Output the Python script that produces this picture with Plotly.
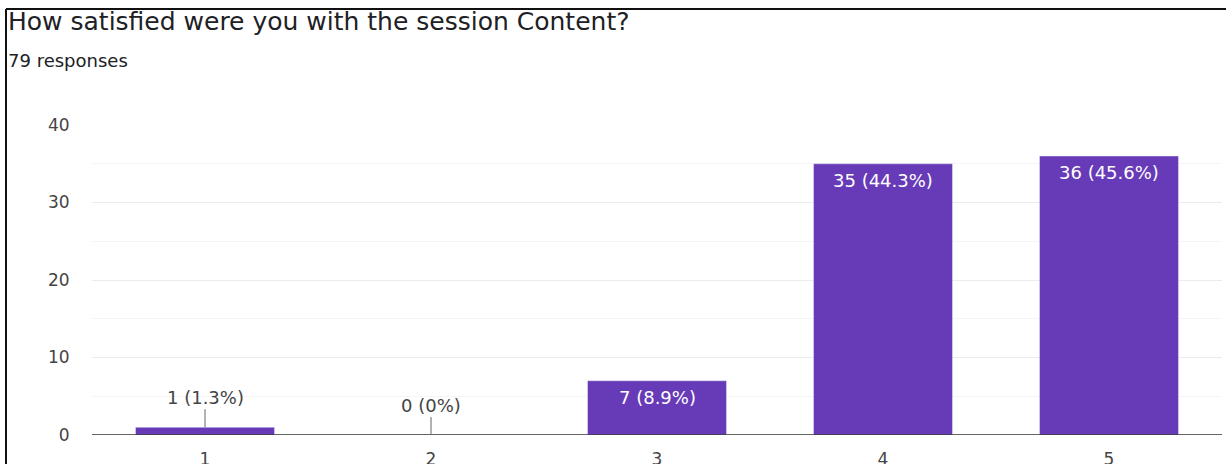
import plotly.graph_objects as go

categories = ["1", "2", "3", "4", "5"]
counts = [1, 0, 7, 35, 36]
total_responses = 79
title_text = "How satisfied were you with the session Content?"
subtitle_text = f"{total_responses} responses"
y_ticks = [0, 10, 20, 30, 40]

BAR_COLOR = "#673ab7"
FONT = "DejaVu Sans"

W, H = 1226, 464
ML, MR, MT, MB = 92, 4, 125, 29
PW, PH = W - ML - MR, H - MT - MB


def px_x(px):
    return (px - ML) / PW


def px_y(py):
    return (H - MB - py) / PH


def pct_label(v):
    p = round(v / total_responses * 100, 1)
    return f"{v} ({p:g}%)"


labels = [pct_label(v) for v in counts]

fig = go.Figure()
fig.add_trace(go.Bar(
    x=categories, y=counts, marker_color=BAR_COLOR, width=0.615,
    hoverinfo="skip", showlegend=False,
))

annotations = []
for i, (v, lab) in enumerate(zip(counts, labels)):
    if v >= 5:
        annotations.append(dict(
            x=i, y=v, xref="x", yref="y", text=lab, showarrow=False,
            yanchor="top", yshift=-4,
            font=dict(family=FONT, size=18, color="#ffffff"),
        ))
    else:
        annotations.append(dict(
            x=i, y=v, xref="x", yref="y", text=lab, showarrow=True,
            arrowhead=0, arrowwidth=1, arrowcolor="#666666", ax=0, ay=-30,
            standoff=0, font=dict(family=FONT, size=18, color="#444444"),
        ))

annotations.append(dict(
    x=px_x(6), y=px_y(48), xref="paper", yref="paper", text=subtitle_text,
    showarrow=False, xanchor="left", yanchor="top",
    font=dict(family=FONT, size=18, color="#202124"),
))

fig.update_layout(
    width=W, height=H,
    margin=dict(l=ML, r=MR, t=MT, b=MB, pad=0),
    paper_bgcolor="white", plot_bgcolor="white",
    title=dict(text=title_text, xref="container", yref="container",
               x=8 / W, xanchor="left", y=1 - 12 / H, yanchor="top",
               font=dict(family=FONT, size=25, color="#202124"),
               pad=dict(l=0, t=0, r=0, b=0)),
    xaxis=dict(
        type="category", range=[-0.5, 4.5], showgrid=False, zeroline=False,
        showline=False, ticks="outside", ticklen=9, tickcolor="rgba(0,0,0,0)",
        tickfont=dict(family=FONT, size=17, color="#444444"),
        automargin=False, fixedrange=True,
    ),
    yaxis=dict(
        range=[0, 40], tickvals=y_ticks, showgrid=True, gridcolor="#ebebeb",
        gridwidth=1, zeroline=False, showline=False, ticks="outside",
        ticklen=18, tickcolor="rgba(0,0,0,0)",
        tickfont=dict(family=FONT, size=17, color="#444444"),
        minor=dict(dtick=5, showgrid=True, gridcolor="#f5f5f5", gridwidth=1),
        automargin=False, fixedrange=True,
    ),
    annotations=annotations,
)

# baseline at zero
fig.add_hline(y=0, line_color="#333333", line_width=1.5, layer="above")

# outer frame (left and top edges)
fig.add_shape(type="line", xref="paper", yref="paper",
              x0=px_x(6), x1=px_x(W + 2), y0=px_y(9), y1=px_y(9),
              line=dict(color="#111111", width=2))
fig.add_shape(type="line", xref="paper", yref="paper",
              x0=px_x(6), x1=px_x(6), y0=px_y(9), y1=px_y(H + 2),
              line=dict(color="#111111", width=2))

fig.write_html("out.html", config={"displayModeBar": False},
               post_script="document.body.style.margin='0';")
